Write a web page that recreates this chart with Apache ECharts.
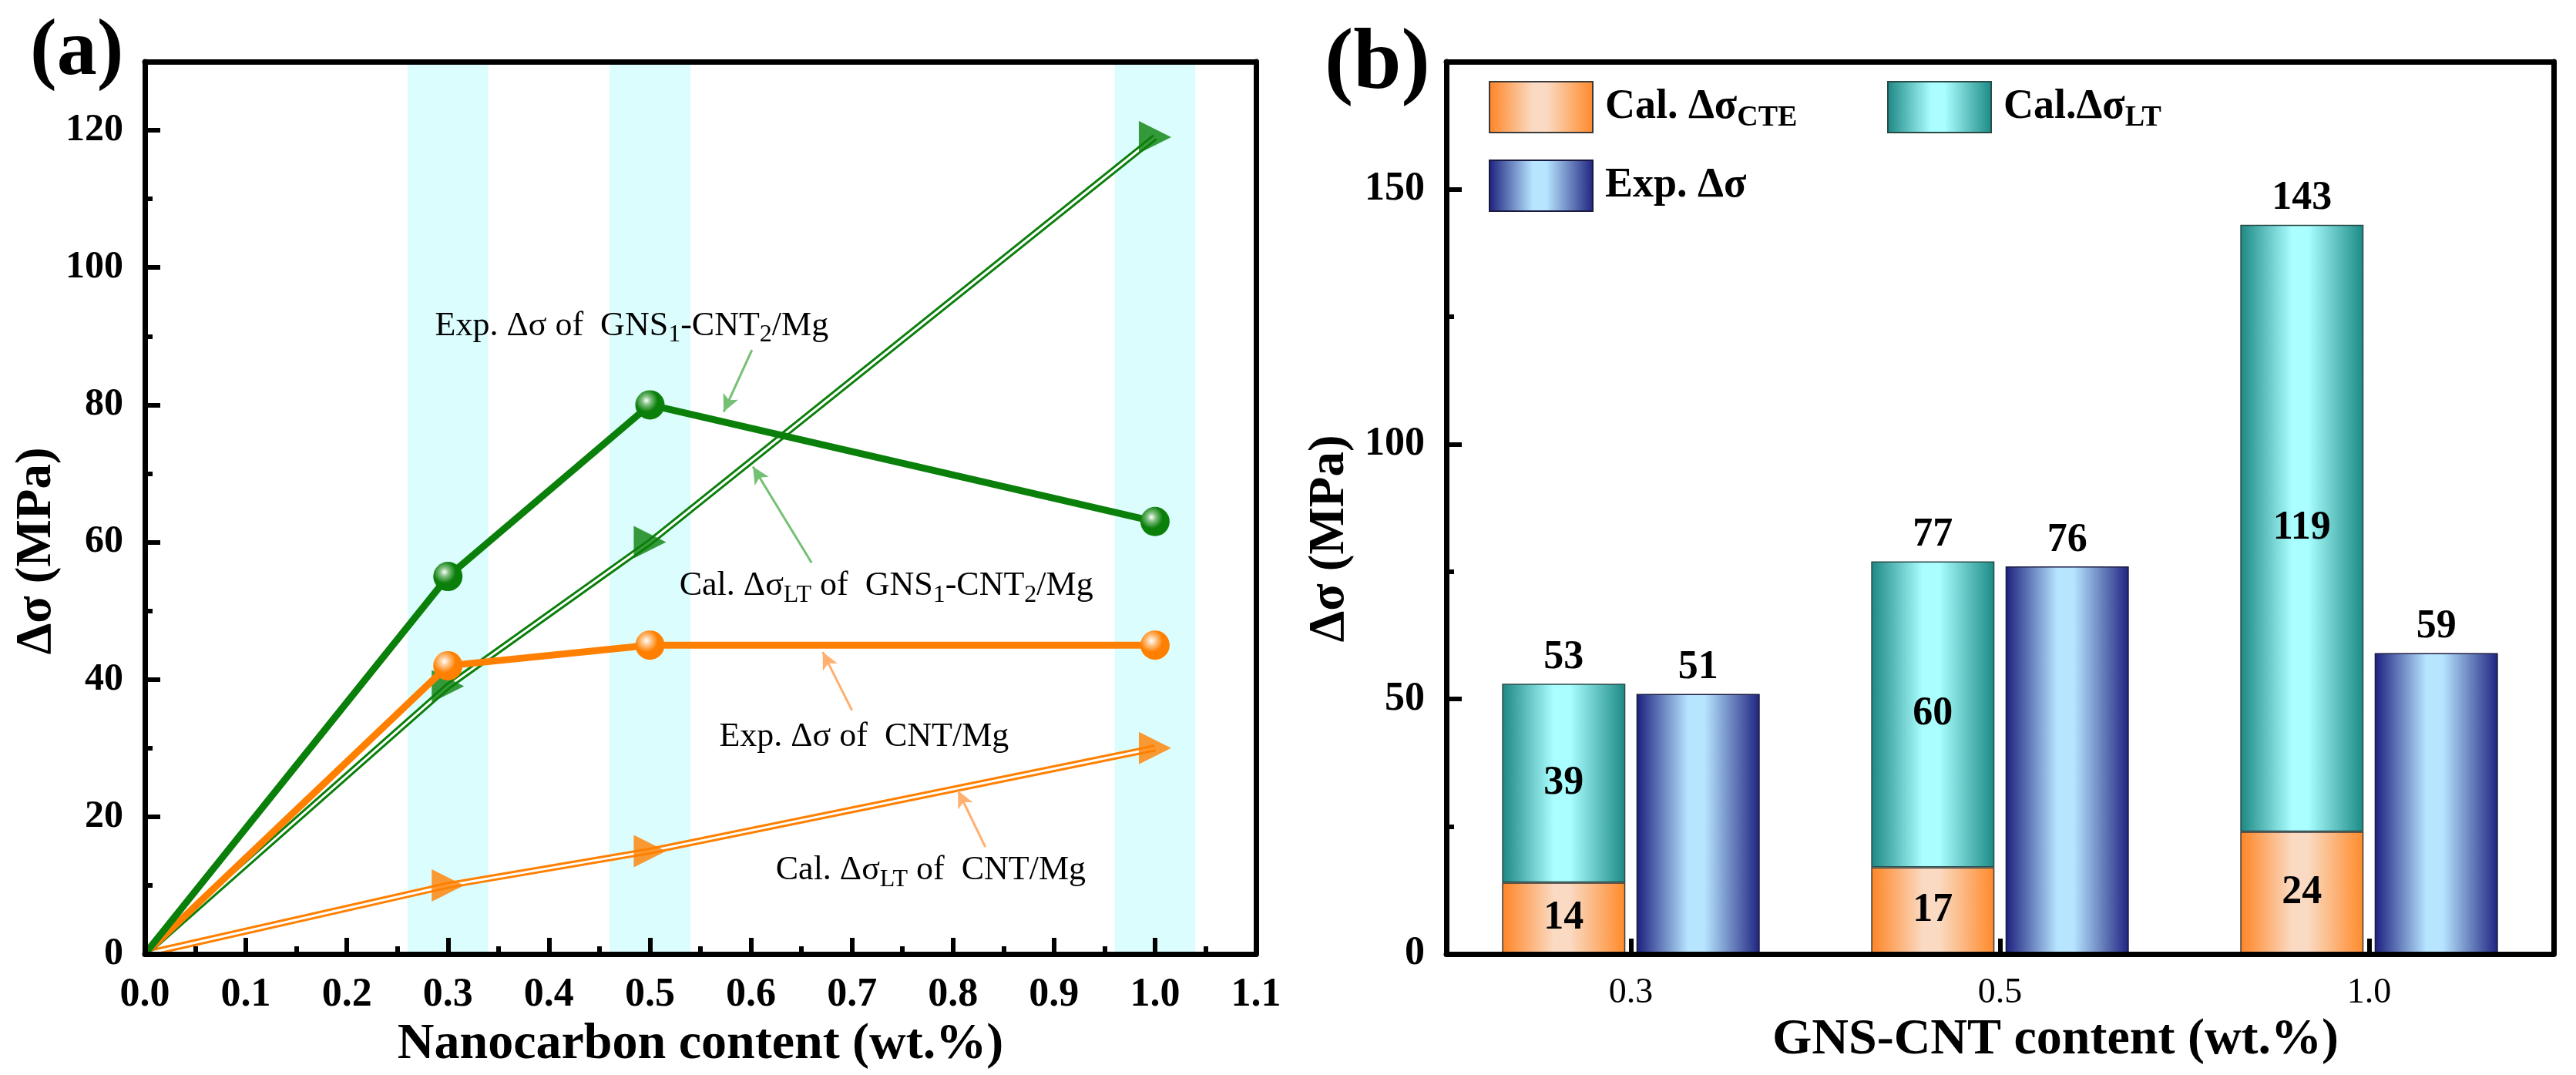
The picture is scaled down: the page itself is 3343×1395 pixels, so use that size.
<!DOCTYPE html>
<html>
<head>
<meta charset="utf-8">
<script src="https://cdn.jsdelivr.net/npm/echarts@6/dist/echarts.min.js"></script>
<style>html,body{margin:0;padding:0;background:#fff}#c{width:3343px;height:1395px}</style>
</head>
<body>
<div id="c"></div>
<script>
// ---------- Panel (a) data ----------
const contentA = [0, 0.3, 0.5, 1.0];
const expGnsCnt = [0, 55, 80, 63];
const calLtGnsCnt = [0, 39, 60, 119];
const expCnt = [0, 42, 45, 45];
const calLtCnt = [0, 10, 15, 30];
const bandCenters = [0.3, 0.5, 1.0];
const bandHalfWidth = 0.04;

// ---------- Panel (b) data ----------
const categoriesB = ['0.3', '0.5', '1.0'];
const calCte = [14, 17, 24];
const calLt = [39, 60, 119];
const calTotal = [53, 77, 143];
const expDelta = [51, 76, 59];

const FONT = "'Liberation Serif','Times New Roman',serif";
const GREEN = '#0a7f0a';
const ORANGE = '#ff8000';

function pairs(ys) { return contentA.map((x, i) => [x, ys[i]]); }
function hGrad(l, m, r) {
  return { type: 'linear', x: 0, y: 0, x2: 1, y2: 0,
    colorStops: [{offset: 0, color: l}, {offset: 0.42, color: m}, {offset: 0.55, color: m}, {offset: 1, color: r}] };
}
function ball(c, hi) {
  return { type: 'radial', x: 0.38, y: 0.35, r: 0.7,
    colorStops: [{offset: 0, color: '#ffffff'}, {offset: 0.22, color: hi}, {offset: 0.55, color: c}, {offset: 1, color: c}] };
}
const sizeNoOrigin = (s) => (v) => (v[0] === 0 ? 0 : s);

const frameLine = { show: true, onZero: false, lineStyle: { color: '#000', width: 7 } };
const tickStyle = { color: '#000', width: 6 };

const chart = echarts.init(document.getElementById('c'), null, { renderer: 'canvas' });

const richA = {
  t: { fontSize: 44, fontFamily: FONT, color: '#000' },
  s: { fontSize: 32, fontFamily: FONT, color: '#000', padding: [24, 0, 0, 0] }
};
const richLeg = {
  a: { fontSize: 54, fontFamily: FONT, fontWeight: 'bold', color: '#000' },
  b: { fontSize: 38, fontFamily: FONT, fontWeight: 'bold', color: '#000', padding: [28, 0, 0, 0] }
};
const legendNames = {
  'Cal. ΔσCTE': '{a|Cal. Δσ}{b|CTE}',
  'Cal.ΔσLT': '{a|Cal.Δσ}{b|LT}',
  'Exp. Δσ': '{a|Exp. Δσ}'
};
function legendAt(name, left, top) {
  return { data: [name], left: left, top: top, itemWidth: 134, itemHeight: 66, icon: 'rect',
    selectedMode: false, padding: 0,
    formatter: (n) => legendNames[n],
    textStyle: { rich: richLeg, padding: [0, 0, 0, 11] } };
}

const option = {
  animation: false,
  backgroundColor: '#fff',
  title: [
    { text: '(a)', left: 34, top: 12, textStyle: { fontSize: 104, fontWeight: 'bold', fontFamily: FONT, color: '#000' } },
    { text: '(b)', left: 1714, top: 24, textStyle: { fontSize: 112, fontWeight: 'bold', fontFamily: FONT, color: '#000' } }
  ],
  legend: [
    legendAt('Cal. ΔσCTE', 1932, 105),
    legendAt('Cal.ΔσLT', 2449, 105),
    legendAt('Exp. Δσ', 1932, 207)
  ],
  grid: [
    { left: 188, top: 80, width: 1442, height: 1158 },
    { left: 1877, top: 80, width: 1437, height: 1158 }
  ],
  xAxis: [
    { type: 'value', gridIndex: 0, position: 'bottom', min: 0, max: 1.1, interval: 0.1, z: 10,
      axisLine: frameLine,
      axisTick: { show: true, inside: true, length: 21, lineStyle: tickStyle },
      minorTick: { show: true, splitNumber: 2, length: 10, lineStyle: tickStyle },
      splitLine: { show: false },
      axisLabel: { fontSize: 52, fontWeight: 'bold', fontFamily: FONT, color: '#000', margin: 28,
        formatter: (v) => v.toFixed(1) },
      name: 'Nanocarbon content (wt.%)', nameLocation: 'middle', nameGap: 74,
      nameTextStyle: { fontSize: 66, fontWeight: 'bold', fontFamily: FONT, color: '#000' } },
    { type: 'value', gridIndex: 0, position: 'top', min: 0, max: 1.1, z: 10,
      axisLine: frameLine, axisTick: { show: false }, axisLabel: { show: false }, splitLine: { show: false } },
    { type: 'category', gridIndex: 1, position: 'bottom', data: categoriesB, z: 10,
      axisLine: frameLine,
      axisTick: { show: true, inside: true, alignWithLabel: true, length: 20, lineStyle: tickStyle },
      axisLabel: { fontSize: 46, fontFamily: FONT, color: '#000', margin: 28 },
      name: 'GNS-CNT content (wt.%)', nameLocation: 'middle', nameGap: 74,
      nameTextStyle: { fontSize: 66, fontWeight: 'bold', fontFamily: FONT, color: '#000', padding: [0, 0, 0, 144] } },
    { type: 'value', gridIndex: 1, position: 'top', min: 0, max: 1, z: 10,
      axisLine: frameLine, axisTick: { show: false }, axisLabel: { show: false }, splitLine: { show: false } }
  ],
  yAxis: [
    { type: 'value', gridIndex: 0, position: 'left', min: 0, max: 130, interval: 20, z: 10,
      axisLine: frameLine,
      axisTick: { show: true, inside: true, length: 20, lineStyle: tickStyle },
      splitLine: { show: false },
      axisLabel: { fontSize: 50, fontWeight: 'bold', fontFamily: FONT, color: '#000', margin: 28, showMaxLabel: false },
      name: 'Δσ (MPa)', nameLocation: 'middle', nameGap: 100, nameRotate: 90,
      nameTextStyle: { fontSize: 65, fontWeight: 'bold', fontFamily: FONT, color: '#000', padding: [0, 112, 0, 0] } },
    { type: 'value', gridIndex: 0, position: 'left', min: 0, max: 130, interval: 10, z: 10,
      axisLine: { show: false }, axisTick: { show: true, inside: true, length: 10, lineStyle: tickStyle },
      axisLabel: { show: false }, splitLine: { show: false } },
    { type: 'value', gridIndex: 0, position: 'right', min: 0, max: 130, z: 10,
      axisLine: frameLine, axisTick: { show: false }, axisLabel: { show: false }, splitLine: { show: false } },
    { type: 'value', gridIndex: 1, position: 'left', min: 0, max: 175, interval: 50, z: 10,
      axisLine: frameLine,
      axisTick: { show: true, inside: true, length: 20, lineStyle: tickStyle },
      splitLine: { show: false },
      axisLabel: { fontSize: 52, fontWeight: 'bold', fontFamily: FONT, color: '#000', margin: 28, showMaxLabel: false },
      name: 'Δσ (MPa)', nameLocation: 'middle', nameGap: 118, nameRotate: 90,
      nameTextStyle: { fontSize: 65, fontWeight: 'bold', fontFamily: FONT, color: '#000', padding: [0, 80, 0, 0] } },
    { type: 'value', gridIndex: 1, position: 'left', min: 0, max: 175, interval: 25, z: 10,
      axisLine: { show: false }, axisTick: { show: true, inside: true, length: 10, lineStyle: tickStyle },
      axisLabel: { show: false }, splitLine: { show: false } },
    { type: 'value', gridIndex: 1, position: 'right', min: 0, max: 175, z: 10,
      axisLine: frameLine, axisTick: { show: false }, axisLabel: { show: false }, splitLine: { show: false } }
  ],
  series: [
    // highlighted bands
    { type: 'line', xAxisIndex: 0, yAxisIndex: 0, data: [], z: 1, silent: true,
      markArea: { silent: true, itemStyle: { color: '#dcfdfd' },
        data: bandCenters.map((c) => [{ xAxis: c - bandHalfWidth }, { xAxis: c + bandHalfWidth }]) } },
    // Cal. LT of CNT/Mg (double line)
    { type: 'line', xAxisIndex: 0, yAxisIndex: 0, data: pairs(calLtCnt), showSymbol: false, z: 3, silent: true,
      lineStyle: { color: ORANGE, width: 9 } },
    { type: 'line', xAxisIndex: 0, yAxisIndex: 0, data: pairs(calLtCnt), showSymbol: false, z: 4, silent: true,
      lineStyle: { color: '#fff', width: 3 } },
    { type: 'scatter', xAxisIndex: 0, yAxisIndex: 0, data: pairs(calLtCnt), z: 5, silent: true,
      symbol: 'triangle', symbolRotate: -90, symbolSize: sizeNoOrigin(42), itemStyle: { color: ORANGE } },
    // Cal. LT of GNS-CNT/Mg (double line)
    { type: 'line', xAxisIndex: 0, yAxisIndex: 0, data: pairs(calLtGnsCnt), showSymbol: false, z: 3, silent: true,
      lineStyle: { color: GREEN, width: 9 } },
    { type: 'line', xAxisIndex: 0, yAxisIndex: 0, data: pairs(calLtGnsCnt), showSymbol: false, z: 4, silent: true,
      lineStyle: { color: '#fff', width: 3 } },
    { type: 'scatter', xAxisIndex: 0, yAxisIndex: 0, data: pairs(calLtGnsCnt), z: 5, silent: true,
      symbol: 'triangle', symbolRotate: -90, symbolSize: sizeNoOrigin(42), itemStyle: { color: GREEN } },
    // Exp. of CNT/Mg
    { type: 'line', xAxisIndex: 0, yAxisIndex: 0, data: pairs(expCnt), z: 6, silent: true,
      showAllSymbol: true, symbol: 'circle', symbolSize: sizeNoOrigin(38),
      lineStyle: { color: ORANGE, width: 9 }, itemStyle: { color: ball(ORANGE, '#ffc890'), borderWidth: 0 } },
    // Exp. of GNS-CNT/Mg
    { type: 'line', xAxisIndex: 0, yAxisIndex: 0, data: pairs(expGnsCnt), z: 7, silent: true,
      showAllSymbol: true, symbol: 'circle', symbolSize: sizeNoOrigin(38),
      lineStyle: { color: GREEN, width: 9 }, itemStyle: { color: ball(GREEN, '#7fbf7f'), borderWidth: 0 } },
    // annotations (text + arrows)
    { type: 'line', xAxisIndex: 0, yAxisIndex: 0, data: [], z: 8, silent: true,
      markLine: { silent: true, symbol: ['none', 'arrow'], symbolSize: [16, 22], label: { show: false },
        lineStyle: { type: 'solid', width: 3 },
        data: [
          [{ coord: [0.601, 88], lineStyle: { color: '#74c074', width: 3, type: 'solid' } }, { coord: [0.573, 79] }],
          [{ coord: [0.66, 57], lineStyle: { color: '#74c074', width: 3, type: 'solid' } }, { coord: [0.602, 71] }],
          [{ coord: [0.70, 35.5], lineStyle: { color: '#ffb070', width: 3, type: 'solid' } }, { coord: [0.671, 44] }],
          [{ coord: [0.832, 15.6], lineStyle: { color: '#ffb070', width: 3, type: 'solid' } }, { coord: [0.805, 23.8] }]
        ] },
      markPoint: { silent: true, symbol: 'circle', symbolSize: 0,
        label: { show: true, position: 'inside', rich: richA },
        data: [
          { coord: [0.482, 91.5], label: { formatter: '{t|Exp. Δσ of  GNS}{s|1}{t|-CNT}{s|2}{t|/Mg}' } },
          { coord: [0.734, 53.6], label: { formatter: '{t|Cal. Δσ}{s|LT}{t| of  GNS}{s|1}{t|-CNT}{s|2}{t|/Mg}' } },
          { coord: [0.712, 31.6], label: { formatter: '{t|Exp. Δσ of  CNT/Mg}' } },
          { coord: [0.778, 12.2], label: { formatter: '{t|Cal. Δσ}{s|LT}{t| of  CNT/Mg}' } }
        ] } },
    // ---------- Panel (b) ----------
    { name: 'Cal. ΔσCTE', type: 'bar', xAxisIndex: 2, yAxisIndex: 3, stack: 'cal', data: calCte,
      barWidth: 160, barGap: '9%',
      itemStyle: { color: hGrad('#ff8424', '#fadac2', '#ff8a2a'), borderColor: '#3a3a3a', borderWidth: 1.5 },
      label: { show: true, position: 'inside', fontSize: 52, fontWeight: 'bold', fontFamily: FONT, color: '#000', textBorderWidth: 0 } },
    { name: 'Cal.ΔσLT', type: 'bar', xAxisIndex: 2, yAxisIndex: 3, stack: 'cal', data: calLt,
      barWidth: 160, barGap: '9%',
      itemStyle: { color: hGrad('#1c8783', '#aafeff', '#1b8a85'), borderColor: '#2a4a48', borderWidth: 1.5 },
      label: { show: true, position: 'inside', fontSize: 52, fontWeight: 'bold', fontFamily: FONT, color: '#000', textBorderWidth: 0 } },
    { name: 'total', type: 'bar', xAxisIndex: 2, yAxisIndex: 3, stack: 'cal', data: calTotal.map(() => 0),
      barWidth: 160, barGap: '9%', itemStyle: { color: 'rgba(0,0,0,0)', borderWidth: 0 },
      label: { show: true, position: 'top', distance: 8, fontSize: 52, fontWeight: 'bold', fontFamily: FONT, color: '#000',
        formatter: (p) => String(calTotal[p.dataIndex]) } },
    { name: 'Exp. Δσ', type: 'bar', xAxisIndex: 2, yAxisIndex: 3, data: expDelta,
      barWidth: 160, barGap: '9%',
      itemStyle: { color: hGrad('#1b1f7e', '#b7e5ff', '#1f2380'), borderColor: '#1a1a40', borderWidth: 1.5 },
      label: { show: true, position: 'top', distance: 8, fontSize: 52, fontWeight: 'bold', fontFamily: FONT, color: '#000' } }
  ]
};
chart.setOption(option);
</script>
</body>
</html>
